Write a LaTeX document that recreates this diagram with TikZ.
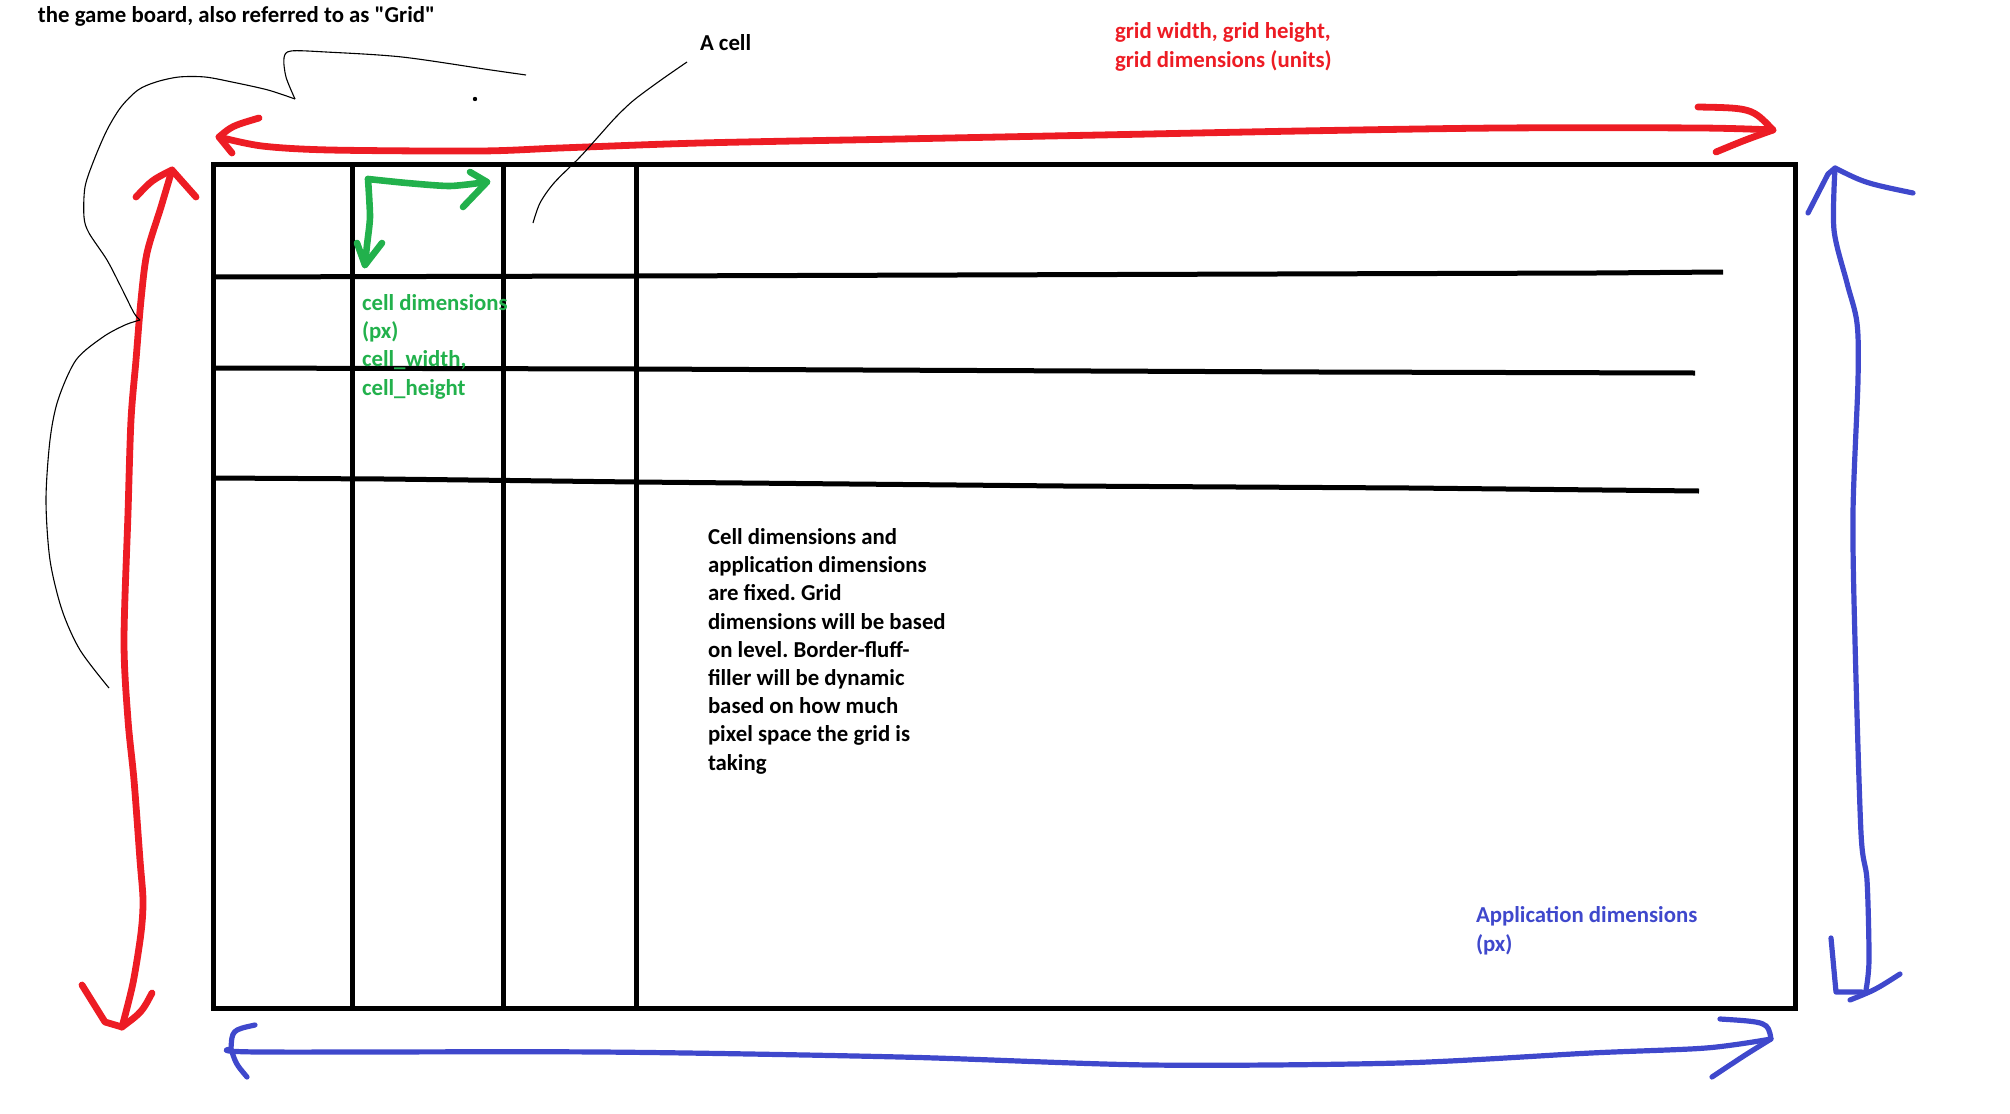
\documentclass[tikz,border=0pt]{standalone}
\usepackage{fontspec}
\setmainfont{Carlito}[Ligatures=TeXOff]
\frenchspacing
\definecolor{pred}{HTML}{ED1C24}
\definecolor{pgreen}{HTML}{22B14C}
\definecolor{pblue}{HTML}{3F48CC}
\tikzset{
  gridline/.style={line width=2.5pt, black},
  redpen/.style={line width=3.4pt, color=pred, line cap=round, line join=round},
  bluepen/.style={line width=2.6pt, color=pblue, line cap=round, line join=round},
  greenpen/.style={line width=3.3pt, color=pgreen, line cap=round, line join=round},
  thinpen/.style={line width=0.55pt, black},
  lbl/.style={inner sep=0pt, outer sep=0pt, anchor=base west, align=left,
    font=\fontsize{11.4}{14.1}\selectfont\bfseries},
}
\begin{document}
\begin{tikzpicture}[x=0.5pt, y=-0.5pt]
\useasboundingbox (0,0) rectangle (2010,1114);

% ---- grid ----
\draw[gridline] (213,164) rectangle (1795,1008);
\draw[gridline] (352,164) -- (352,1008);
\draw[gridline] (503,164) -- (503,1008);
\draw[gridline] (636,164) -- (636,1011);
\draw[gridline] (213,277) -- (636,276) -- (1596,273) -- (1723,272);
\draw[gridline] (213,368) -- (636,369) -- (1320,372) -- (1695,373);
\draw[gridline] (213,478) -- (385,479) -- (636,482) -- (1064,486) -- (1410,488) -- (1699,491);

% ---- red top arrow ----
\coordinate (rtl) at (219,137);
\coordinate (rtr) at (1773,130);
\draw[redpen] plot[smooth, tension=0.5] coordinates {(219,137) (262,146) (330,150) (480,151) (560,148) (700,143) (900,139) (1100,135) (1300,131) (1500,128) (1700,128) (1773,130)};
\draw[redpen] (259,118) .. controls (232,126) .. (rtl) -- (232,153);
\draw[redpen] (1698,107) .. controls (1752,108) .. (rtr) .. controls (1745,140) .. (1716,152);

% ---- red left arrow ----
\coordinate (rvt) at (172,170);
\coordinate (rvb) at (122,1027);
\draw[redpen] plot[smooth, tension=0.5] coordinates {(172,170) (161,207) (147,253) (141,300) (136,360) (131,420) (128,513) (124,641) (128,720) (134,780) (140,860) (143,900) (141,933) (133,983) (122,1027)};
\draw[redpen] (136,197) .. controls (152,180) .. (rvt) -- (196,197);
\draw[redpen] (82,985) -- (105,1022) -- (rvb);
\draw[redpen] (152,993) .. controls (142,1012) .. (rvb);

% ---- blue right arrow ----
\coordinate (bvt) at (1835,168);
\coordinate (bvb) at (1850,1000);
\draw[bluepen] plot[smooth, tension=0.5] coordinates {(1835,168) (1834,230) (1847,283) (1857,323) (1858,380) (1853,513) (1855,641) (1861,833) (1867,880) (1869,960) (1866,990)};
\draw[bluepen] (1808,213) -- (1828,174) -- (bvt) .. controls (1865,183) .. (1913,193);
\draw[bluepen] (1831,938) -- (1836,992) -- (1862,992);
\draw[bluepen] (1900,974) .. controls (1875,990) .. (bvb);

% ---- blue bottom arrow ----
\coordinate (bhl) at (231,1049);
\coordinate (bhr) at (1771,1039);
\draw[bluepen] plot[smooth, tension=0.5] coordinates {(231,1049) (260,1052) (600,1052) (900,1057) (1150,1065) (1400,1063) (1591,1053) (1706,1048) (1771,1039)};
\draw[bluepen] (255,1025) .. controls (232,1030) .. (bhl) .. controls (236,1064) .. (247,1077);
\draw[bluepen] (1720,1019) .. controls (1768,1022) .. (bhr) .. controls (1745,1055) .. (1712,1077);

% ---- green arrow ----
\coordinate (gc) at (368,179);
\coordinate (gr) at (487,182);
\coordinate (gb) at (365,265);
\draw[greenpen] plot[smooth, tension=0.4] coordinates {(gr) (450,186) (407,183) (368,179)};
\draw[greenpen] plot[smooth, tension=0.4] coordinates {(368,179) (370,217) (367,245) (gb)};
\draw[greenpen] (470,172) -- (gr) -- (463,207);
\draw[greenpen] (357,243) -- (gb) -- (382,243);

% ---- thin hand-drawn outline ----
\draw[thinpen] plot[smooth, tension=0.5] coordinates {(526,75) (491,70) (402,57) (326,52) (291,51) (284,58) (286,77) (295,99)};
\draw[thinpen] plot[smooth, tension=0.5] coordinates {(295,99) (268,90) (232,82) (205,77) (179,77) (156,82) (138,90) (121,107) (107,130) (94,160) (85,187) (84,217) (89,233) (107,260) (121,287) (134,313) (140,320)};
\draw[thinpen] plot[smooth, tension=0.5] coordinates {(140,320) (125,325) (103,337) (76,360) (58,400) (50,440) (46,500) (50,560) (62,610) (80,650) (109,688)};
\fill (475,99) circle (2.2);
\draw[thinpen] plot[smooth, tension=0.5] coordinates {(687,62) (661,80) (634,100) (616,117) (598,137) (580,157) (554,183) (540,203) (533,223)};

% ---- texts (anchor = baseline of the last line) ----
\node[lbl] (title) at (38,22) {the game board, also referred to as "Grid"};
\node[lbl] (acell) at (700,50) {A cell};
\node[lbl, text=pred] (gridlbl) at (1115,67) {grid width, grid height,\\grid dimensions (units)};
\node[lbl, text=pgreen] (celllbl) at (362,395) {cell dimensions\\(px)\\cell\_width,\\cell\_height};
\node[lbl] (note) at (708,770) {Cell dimensions and\\application dimensions\\are fixed. Grid\\dimensions will be based\\on level. Border-fluff-\\filler will be dynamic\\based on how much\\pixel space the grid is\\taking};
\node[lbl, text=pblue] (applbl) at (1476,951) {Application dimensions\\(px)};
\end{tikzpicture}
\end{document}
